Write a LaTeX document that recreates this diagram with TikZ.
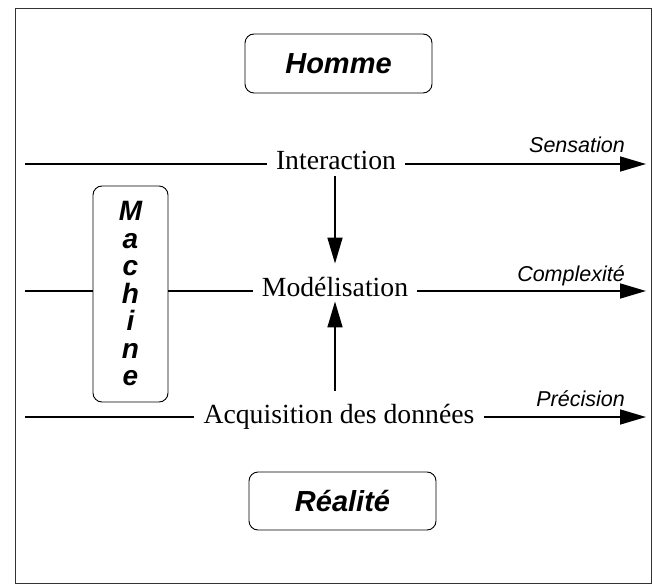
\documentclass[tikz,border=0pt]{standalone}
\usepackage{fontspec}
\setmainfont{Liberation Serif}
\setsansfont{Liberation Sans}
\usetikzlibrary{arrows.meta}
\tikzset{
  frameline/.style={draw=black!80, line width=0.9pt},
  roundbox/.style={draw, line width=0.9pt, rounded corners=9pt, inner sep=0pt,
    font=\sffamily\bfseries\itshape\fontsize{29}{29}\selectfont},
  mainlabel/.style={inner xsep=9pt, inner ysep=0pt, anchor=base,
    font=\fontsize{27.7}{30}\selectfont},
  axislabel/.style={inner sep=0pt, anchor=base east,
    font=\sffamily\itshape\fontsize{21.5}{22}\selectfont},
  conn/.style={line width=1.6pt},
  arr/.style={line width=1.6pt, -{Triangle[length=26pt,width=15pt]}}
}
\begin{document}
\begin{tikzpicture}[x=1pt,y=-1pt]
\useasboundingbox (0,0) rectangle (653,585);
\fill[white] (0,0) rectangle (653,585);
\draw[frameline] (15,8) rectangle (651,583);

% boxes
\node[roundbox, minimum width=187pt, minimum height=59pt] (homme) at (338.5,63.5) {Homme};
\node[roundbox, minimum width=187pt, minimum height=58pt] (realite) at (342.5,501) {Réalité};
\node[roundbox, minimum width=75pt, minimum height=216pt, align=center,
      font=\sffamily\bfseries\itshape\fontsize{28}{27.5}\selectfont] (machine) at (130.5,294)
  {M\\a\\c\\h\\i\\n\\e};

% level labels
\node[mainlabel] (inter) at (336,170) {Interaction};
\node[mainlabel] (model) at (335,297) {Modélisation};
\node[mainlabel] (acq) at (339,423) {Acquisition des données};

% axis labels
\node[axislabel] (sens) at (625,153) {Sensation};
\node[axislabel] (compl) at (625,282) {Complexité};
\node[axislabel] (prec) at (625,406) {Précision};

% end points
\coordinate (iW) at (25,164);
\coordinate (iE) at (646,164);
\coordinate (mW) at (25,291);
\coordinate (mE) at (646,291);
\coordinate (aW) at (25,417);
\coordinate (aE) at (646,417);

% horizontal lines
\draw[conn] (iW) -- (inter.west |- iW);
\draw[arr] (inter.east |- iE) -- (iE);
\draw[conn] (mW) -- (machine.west |- mW);
\draw[conn] (machine.east |- mW) -- (model.west |- mW);
\draw[arr] (model.east |- mE) -- (mE);
\draw[conn] (aW) -- (acq.west |- aW);
\draw[arr] (acq.east |- aE) -- (aE);

% vertical arrows
\draw[arr, shorten <=6pt, shorten >=14pt] (inter.south -| model.north) -- (model.north);
\draw[arr, shorten <=13pt, shorten >=4pt] (model.south |- acq.north) -- (model.south);
\end{tikzpicture}
\end{document}
